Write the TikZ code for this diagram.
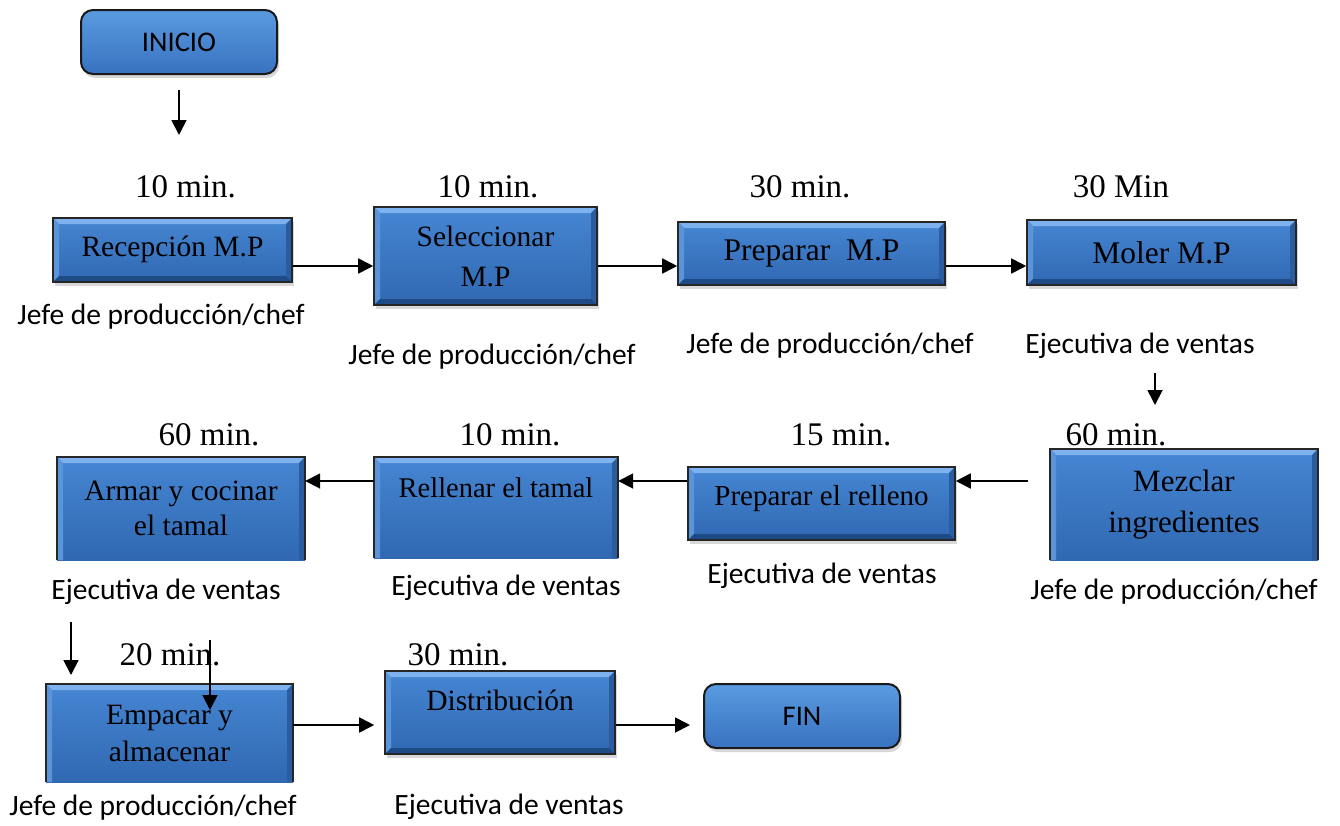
\documentclass[tikz,border=0pt]{standalone}
\usepackage{fontspec}
\setmainfont{Liberation Serif}
\newfontfamily\calfont{Carlito}
\usetikzlibrary{arrows.meta,shadows}
\definecolor{boxtop}{HTML}{4686D3}
\definecolor{boxbot}{HTML}{3068B2}
\definecolor{bvtop}{HTML}{7DB2EE}
\definecolor{bvleft}{HTML}{5A95DC}
\definecolor{bvright}{HTML}{2A5C9E}
\definecolor{bvbot}{HTML}{1E4A86}
\definecolor{termtop}{HTML}{5A9BE0}
\definecolor{termbot}{HTML}{3872C0}
\newcommand\lift[2]{\raisebox{#1}{#2}}
\tikzset{
  pbox/.style={rectangle, draw=black!85, line width=1.6pt, top color=boxtop, bottom color=boxbot,
    drop shadow={shadow xshift=2pt, shadow yshift=-4pt, opacity=0.3},
    align=center, inner sep=0pt, font=\fontsize{29}{38}\selectfont,
    path picture={
      \fill[bvtop] (path picture bounding box.north west) -- (path picture bounding box.north east)
        -- ([shift={(-6pt,-6pt)}]path picture bounding box.north east) -- ([shift={(6pt,-6pt)}]path picture bounding box.north west) -- cycle;
      \fill[bvleft] (path picture bounding box.north west) -- (path picture bounding box.south west)
        -- ([shift={(6pt,6pt)}]path picture bounding box.south west) -- ([shift={(6pt,-6pt)}]path picture bounding box.north west) -- cycle;
      \fill[bvright] (path picture bounding box.north east) -- (path picture bounding box.south east)
        -- ([shift={(-6pt,6pt)}]path picture bounding box.south east) -- ([shift={(-6pt,-6pt)}]path picture bounding box.north east) -- cycle;
      \fill[bvbot] (path picture bounding box.south west) -- (path picture bounding box.south east)
        -- ([shift={(-6pt,6pt)}]path picture bounding box.south east) -- ([shift={(6pt,6pt)}]path picture bounding box.south west) -- cycle;
    }},
  cutbox/.style={rectangle, draw=none, top color=boxtop, bottom color=boxbot,
    align=center, inner sep=0pt, font=\fontsize{29}{38}\selectfont,
    path picture={
      \fill[bvtop] (path picture bounding box.north west) -- (path picture bounding box.north east)
        -- ([shift={(-6pt,-6pt)}]path picture bounding box.north east) -- ([shift={(6pt,-6pt)}]path picture bounding box.north west) -- cycle;
      \fill[bvleft] (path picture bounding box.north west) -- (path picture bounding box.south west)
        -- ([shift={(6pt,0pt)}]path picture bounding box.south west) -- ([shift={(6pt,-6pt)}]path picture bounding box.north west) -- cycle;
      \fill[bvright] (path picture bounding box.north east) -- (path picture bounding box.south east)
        -- ([shift={(-6pt,0pt)}]path picture bounding box.south east) -- ([shift={(-6pt,-6pt)}]path picture bounding box.north east) -- cycle;
    }},
  cutedge/.style={draw=black!85, line width=1.6pt},
  term/.style={rectangle, rounded corners=12pt, draw=black!90, line width=2pt,
    top color=termtop, bottom color=termbot,
    drop shadow={shadow xshift=2pt, shadow yshift=-4pt, opacity=0.3},
    inner sep=0pt, font=\calfont\fontsize{28.5}{34}\selectfont},
  minlbl/.style={font=\fontsize{33}{38}\selectfont, inner sep=0pt},
  rolelbl/.style={font=\calfont\fontsize{29.5}{34}\selectfont, inner sep=0pt},
  arr/.style={line width=1.8pt, -{Triangle[length=15pt,width=15pt]}}
}
\begin{document}
\begin{tikzpicture}[x=1pt,y=-1pt]
\fill[white] (0,0) rectangle (1340,825);
\useasboundingbox (0,0) rectangle (1340,825);

% terminals
\node[term, minimum width=196pt, minimum height=64pt] (inicio) at (179,42) {INICIO};
\node[term, minimum width=196pt, minimum height=64pt] (fin) at (802,716) {FIN};

% row 1
\node[pbox, minimum width=239pt, minimum height=64pt, font=\fontsize{29.5}{34}\selectfont] (recep) at (172.5,250) {\lift{7pt}{Recepción M.P}};
\node[pbox, minimum width=223pt, minimum height=98pt, font=\fontsize{29.5}{40}\selectfont] (selec) at (485.5,256) {Seleccionar\\M.P};
\node[pbox, minimum width=267pt, minimum height=63pt, font=\fontsize{31.5}{36}\selectfont] (prepmp) at (811.5,253.5) {Preparar\ \ M.P};
\node[pbox, minimum width=269pt, minimum height=65pt, font=\fontsize{31.5}{36}\selectfont] (moler) at (1161.5,252.5) {Moler M.P};

% row 2
\node[cutbox, minimum width=268pt, minimum height=111pt, font=\fontsize{31}{41}\selectfont] (mezclar) at (1184,504.5) {Mezclar\\ingredientes};
\draw[cutedge] (mezclar.south west) -- (mezclar.north west) -- (mezclar.north east) -- (mezclar.south east);
\node[pbox, minimum width=267pt, minimum height=73pt, font=\fontsize{29}{34}\selectfont] (relleno) at (821.5,503.5) {\lift{17pt}{Preparar el relleno}};
\node[cutbox, minimum width=244pt, minimum height=101pt, font=\fontsize{28.5}{34}\selectfont] (rellenar) at (496,507.5) {\lift{39pt}{Rellenar el tamal}};
\draw[cutedge] (rellenar.south west) -- (rellenar.north west) -- (rellenar.north east) -- (rellenar.south east);
\node[cutbox, minimum width=248pt, minimum height=103pt, font=\fontsize{29.5}{35}\selectfont] (armar) at (181,508.5) {Armar y cocinar\\el tamal};
\draw[cutedge] (armar.south west) -- (armar.north west) -- (armar.north east) -- (armar.south east);

% row 3
\node[cutbox, minimum width=247pt, minimum height=98pt, font=\fontsize{29.5}{37}\selectfont] (empacar) at (169.5,733) {Empacar y\\almacenar};
\draw[cutedge] (empacar.south west) -- (empacar.north west) -- (empacar.north east) -- (empacar.south east);
\node[pbox, minimum width=230pt, minimum height=83pt, font=\fontsize{29.5}{34}\selectfont] (distrib) at (500,712.5) {\lift{25pt}{Distribución}};

% time labels
\node[minlbl] (t1) at (185.5,187) {10 min.};
\node[minlbl] (t2) at (488,187) {10 min.};
\node[minlbl] (t3) at (800,187) {30 min.};
\node[minlbl] (t4) at (1121,187) {30 Min};
\node[minlbl] (t5) at (209,435) {60 min.};
\node[minlbl] (t6) at (510,435) {10 min.};
\node[minlbl] (t7) at (841,435) {15 min.};
\node[minlbl] (t8) at (1116,435) {60 min.};
\node[minlbl] (t9) at (170,655) {20 min.};
\node[minlbl] (t10) at (458,655) {30 min.};

% role labels
\node[rolelbl] (r1) at (161,317) {Jefe de producción/chef};
\node[rolelbl] (r2) at (492,357) {Jefe de producción/chef};
\node[rolelbl] (r3) at (830,346) {Jefe de producción/chef};
\node[rolelbl] (r4) at (1140,346) {Ejecutiva de ventas};
\node[rolelbl] (r5) at (166,592) {Ejecutiva de ventas};
\node[rolelbl] (r6) at (506,588) {Ejecutiva de ventas};
\node[rolelbl] (r7) at (822,576) {Ejecutiva de ventas};
\node[rolelbl] (r8) at (1174,592) {Jefe de producción/chef};
\node[rolelbl] (r9) at (153,808) {Jefe de producción/chef};
\node[rolelbl] (r10) at (509,807) {Ejecutiva de ventas};

% helper coordinates
\coordinate (y1) at (0,266);
\coordinate (y2) at (0,481);
\coordinate (y3) at (0,725);
\coordinate (a1s) at (179,90);  \coordinate (a1e) at (179,135);
\coordinate (a5s) at (1155,373); \coordinate (a5e) at (1155,405);
\coordinate (a6s) at (1028,481);
\coordinate (a9s) at (71,622);  \coordinate (a9e) at (71,675);
\coordinate (a10s) at (210,640); \coordinate (a10e) at (210,710);

% connectors
\draw[arr] (a1s) -- (a1e);
\draw[arr] (recep.east |- y1) -- (selec.west |- y1);
\draw[arr] (selec.east |- y1) -- (prepmp.west |- y1);
\draw[arr] (prepmp.east |- y1) -- (moler.west |- y1);
\draw[arr] (a5s) -- (a5e);
\draw[arr] (a6s) -- (relleno.east |- a6s);
\draw[arr] (relleno.west |- y2) -- (rellenar.east |- y2);
\draw[arr] (rellenar.west |- y2) -- (armar.east |- y2);
\draw[arr] (a9s) -- (a9e);
\draw[arr] (a10s) -- (a10e);
\draw[arr, shorten >=10pt] (empacar.east |- y3) -- (distrib.west |- y3);
\draw[arr, shorten >=13pt] (distrib.east |- y3) -- (fin.west |- y3);
\end{tikzpicture}
\end{document}
